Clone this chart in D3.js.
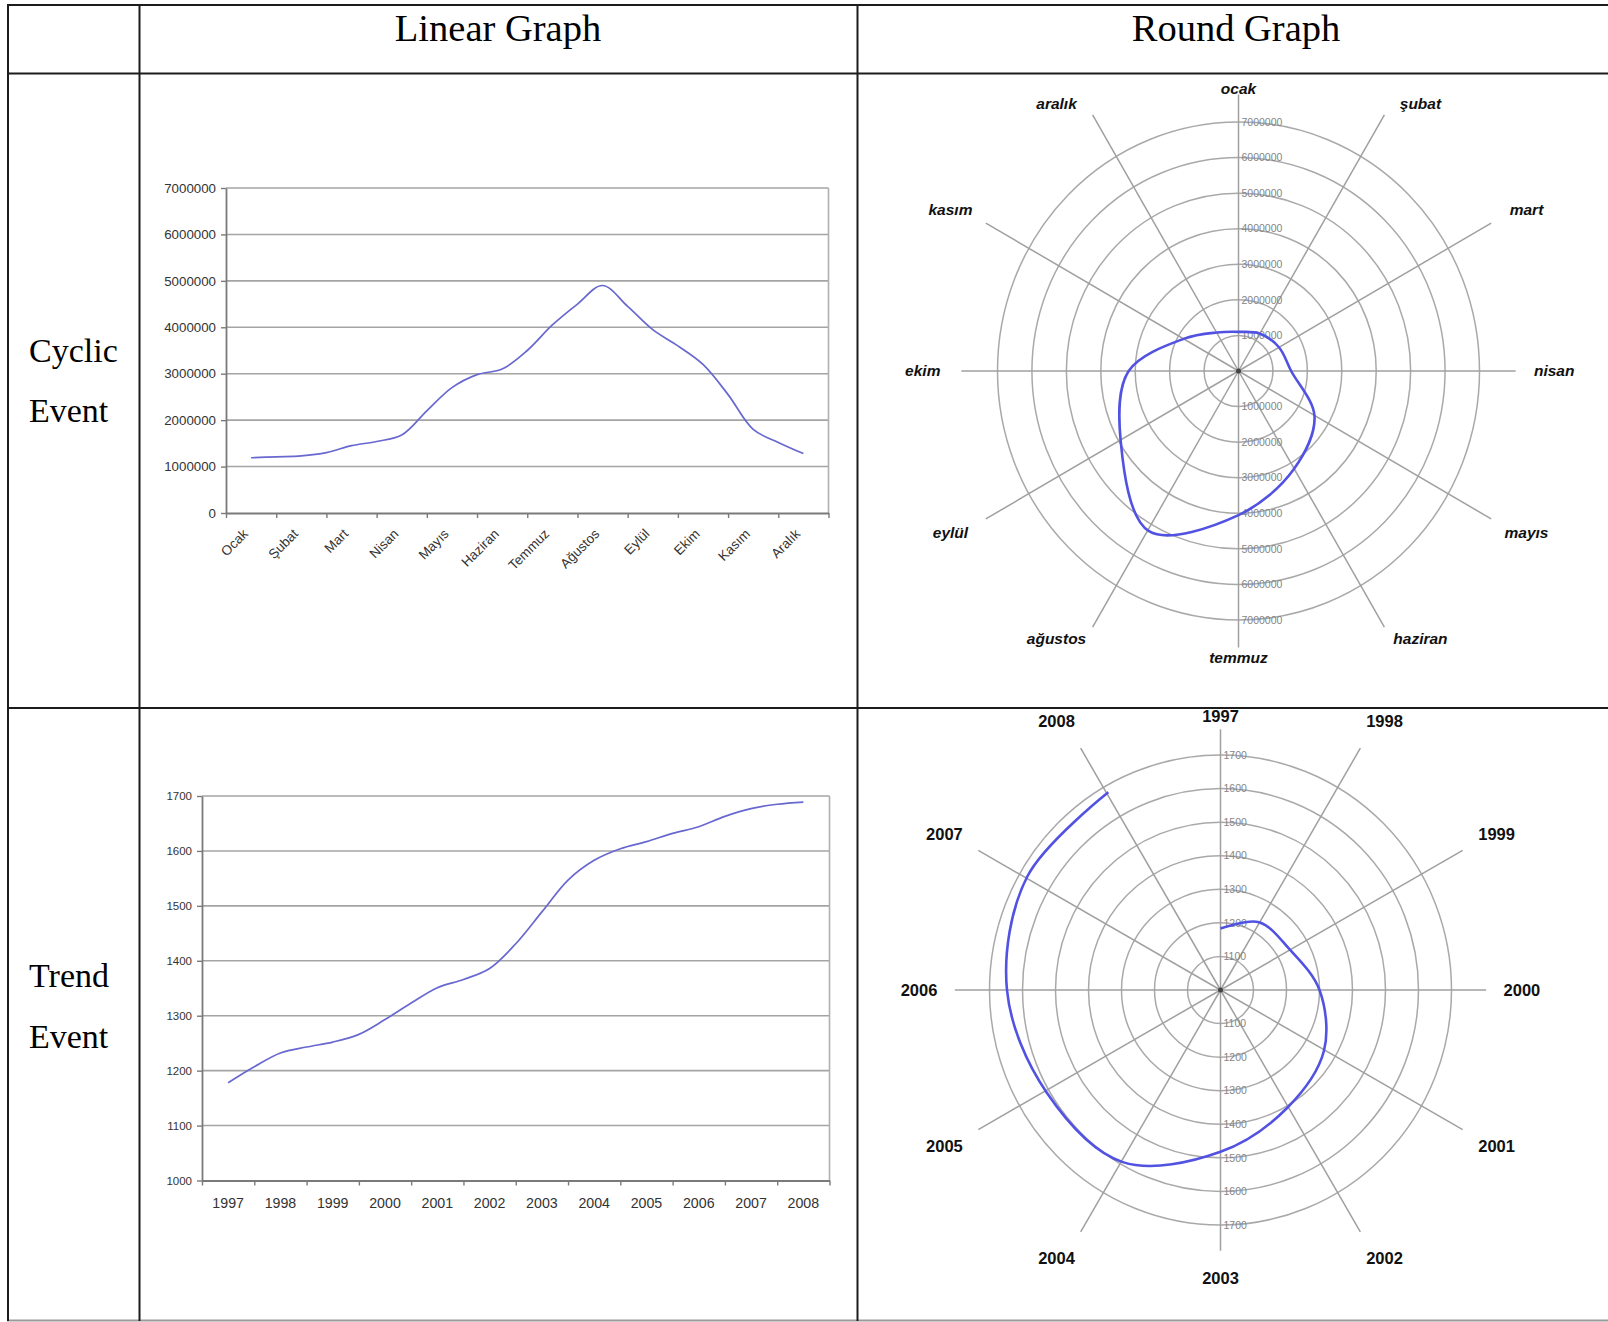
<!DOCTYPE html>
<html>
<head>
<meta charset="utf-8">
<title>Linear and Round Graphs</title>
<script src="https://d3js.org/d3.v7.min.js"></script>
<style>
  body { margin: 0; background: #fff; }
  svg { display: block; }
</style>
</head>
<body>
<div id="chart"></div>
<script>
// ---- data ----
var monthLabels = ["Ocak", "Şubat", "Mart", "Nisan", "Mayıs", "Haziran", "Temmuz", "Ağustos", "Eylül", "Ekim", "Kasım", "Aralık"];
var monthLabelsRound = ["ocak", "şubat", "mart", "nisan", "mayıs", "haziran", "temmuz", "ağustos", "eylül", "ekim", "kasım", "aralık"];
var yearLabels = ["1997", "1998", "1999", "2000", "2001", "2002", "2003", "2004", "2005", "2006", "2007", "2008"];

// cyclic linear graph, one value every half month (Ocak .. Aralık)
var cyclicLinear = [1190000, 1210000, 1230000, 1300000, 1450000, 1540000, 1680000, 2200000, 2700000, 2980000, 3100000, 3500000,
                    4050000, 4500000, 4900000, 4450000, 3950000, 3600000, 3200000, 2550000, 1800000, 1520000, 1280000];
// cyclic round graph, one value per month
var cyclicRound = [1100000, 1220000, 1350000, 1530000, 2550000, 3200000, 4050000, 5200000, 3950000, 3190000, 1820000, 1250000];
var cyclicTicks = [0, 1000000, 2000000, 3000000, 4000000, 5000000, 6000000, 7000000];

// trend linear graph, one value every half year (1997 .. 2008)
var trendLinear = [1178, 1207, 1232, 1243, 1252, 1266, 1293, 1323, 1351, 1366, 1386, 1431,
                   1489, 1547, 1583, 1604, 1617, 1632, 1644, 1663, 1677, 1685, 1689];
// trend round graph, one value per year
var trendRound = [1183, 1233, 1242, 1300, 1362, 1405, 1482, 1592, 1609, 1647, 1676, 1680];
var trendTicks = [1000, 1100, 1200, 1300, 1400, 1500, 1600, 1700];

var W = 1608, H = 1322;
var lineBlue = "#6868d0", roundBlue = "#5252e2";
var sans = "'Liberation Sans', Arial, sans-serif";
var serif = "'Liberation Serif', 'Times New Roman', serif";

var svg = d3.select("#chart").append("svg")
    .attr("width", W)
    .attr("height", H);
svg.append("rect").attr("width", W).attr("height", H).attr("fill", "#fff");

// ---- table frame ----
var table = svg.append("g").attr("stroke", "#1c1c1c").attr("stroke-width", 2);
[5, 73.5, 708].forEach(function(y) {
    table.append("line").attr("x1", 7).attr("x2", W).attr("y1", y).attr("y2", y);
});
table.append("line").attr("x1", 7).attr("x2", W).attr("y1", 1320.5).attr("y2", 1320.5).attr("stroke", "#9a9a9a");
[8, 139.5, 857.5].forEach(function(x) {
    table.append("line").attr("x1", x).attr("x2", x).attr("y1", 4).attr("y2", 1321);
});

var heads = svg.append("g").attr("font-family", serif).attr("fill", "#000");
heads.append("text").attr("x", 498).attr("y", 41).attr("text-anchor", "middle").attr("font-size", 38.5).text("Linear Graph");
heads.append("text").attr("x", 1236).attr("y", 41).attr("text-anchor", "middle").attr("font-size", 38.5).text("Round Graph");
[["Cyclic", 362], ["Event", 422], ["Trend", 987], ["Event", 1048]].forEach(function(t) {
    heads.append("text").attr("x", 29).attr("y", t[1]).attr("font-size", 34).text(t[0]);
});

// ---- linear (line) charts ----
function drawLinear(cfg) {
    var g = svg.append("g");
    var n = cfg.categories.length;
    var x = d3.scaleLinear().domain([-0.5, n - 0.5]).range([cfg.left, cfg.right]);
    var y = d3.scaleLinear().domain(d3.extent(cfg.ticks)).range([cfg.bottom, cfg.top]);

    // horizontal gridlines
    g.selectAll("line.grid").data(cfg.ticks.slice(1)).join("line")
        .attr("class", "grid")
        .attr("x1", cfg.left).attr("x2", cfg.right)
        .attr("y1", function(d) { return y(d); }).attr("y2", function(d) { return y(d); })
        .attr("stroke", "#a4a4a4").attr("stroke-width", 1.6);
    // right border of plot area
    g.append("line")
        .attr("x1", cfg.right).attr("x2", cfg.right).attr("y1", cfg.top).attr("y2", cfg.bottom)
        .attr("stroke", "#b0b0b0").attr("stroke-width", 1.6);

    // y axis
    var yAxis = g.append("g")
        .attr("transform", "translate(" + cfg.left + ",0)")
        .call(d3.axisLeft(y).tickValues(cfg.ticks).tickSize(5).tickSizeOuter(0).tickFormat(d3.format("d")).tickPadding(5));
    yAxis.select(".domain").attr("stroke", "#7a7a7a").attr("stroke-width", 1.8);
    yAxis.selectAll(".tick line").attr("stroke", "#7a7a7a").attr("stroke-width", 1.4);
    yAxis.selectAll(".tick text")
        .attr("font-family", sans).attr("font-size", cfg.yFont).attr("fill", "#333");

    // x axis, ticks between categories
    var bounds = d3.range(n + 1).map(function(i) { return i - 0.5; });
    var xAxis = g.append("g")
        .attr("transform", "translate(0," + cfg.bottom + ")")
        .call(d3.axisBottom(x).tickValues(bounds).tickSize(5).tickSizeOuter(0).tickFormat(""));
    xAxis.select(".domain").attr("stroke", "#7a7a7a").attr("stroke-width", 1.8);
    xAxis.selectAll(".tick line").attr("stroke", "#7a7a7a").attr("stroke-width", 1.4);

    var labs = g.append("g").attr("font-family", sans).attr("font-size", cfg.xFont).attr("fill", "#333");
    if (cfg.rotate) {
        labs.selectAll("text").data(cfg.categories).join("text")
            .attr("text-anchor", "end")
            .attr("dy", "0.7em")
            .attr("transform", function(d, i) {
                return "translate(" + (x(i) - 9) + "," + (cfg.bottom + 15) + ") rotate(-45)";
            })
            .text(function(d) { return d; });
    } else {
        labs.selectAll("text").data(cfg.categories).join("text")
            .attr("text-anchor", "middle")
            .attr("x", function(d, i) { return x(i); })
            .attr("y", cfg.bottom + 27)
            .text(function(d) { return d; });
    }

    var line = d3.line()
        .x(function(d, i) { return x(i * 0.5); })
        .y(function(d) { return y(d); })
        .curve(d3.curveCatmullRom.alpha(0.5));
    g.append("path").datum(cfg.values)
        .attr("d", line)
        .attr("fill", "none")
        .attr("stroke", lineBlue)
        .attr("stroke-width", 1.7);
}

drawLinear({ categories: monthLabels, values: cyclicLinear, ticks: cyclicTicks,
             left: 226, right: 828.5, top: 188, bottom: 513, yFont: 13.3, xFont: 13.5, rotate: true });
drawLinear({ categories: yearLabels, values: trendLinear, ticks: trendTicks,
             left: 202, right: 829.5, top: 796, bottom: 1180.5, yFont: 11.5, xFont: 14.2, rotate: false });

// ---- round (radar) charts ----
// labelX / labelY: label distance as a multiple of the outer radius,
// for [top/side axis, spokes near vertical, spokes near horizontal, bottom axis]
function drawRound(cfg) {
    var g = svg.append("g");
    var n = cfg.labels.length;
    var rX = d3.scaleLinear().domain(d3.extent(cfg.ticks)).range([0, cfg.rx]);
    var rY = d3.scaleLinear().domain(d3.extent(cfg.ticks)).range([0, cfg.ry]);
    function ang(i) { return i * 2 * Math.PI / n; }
    function s2(i) { return Math.abs(Math.sin(2 * ang(i))); }
    function cls(i) {
        if (i === n / 2) return 3;
        if (i % 3 === 0) return 0;
        return Math.abs(Math.cos(ang(i))) > 0.8 ? 1 : 2;
    }

    // rings
    g.selectAll("ellipse").data(cfg.ticks.slice(1)).join("ellipse")
        .attr("cx", cfg.cx).attr("cy", cfg.cy)
        .attr("rx", function(d) { return rX(d); })
        .attr("ry", function(d) { return rY(d); })
        .attr("fill", "none").attr("stroke", "#a9a9a9").attr("stroke-width", 1.5);

    // spokes
    g.selectAll("line.spoke").data(d3.range(n)).join("line")
        .attr("class", "spoke")
        .attr("x1", cfg.cx).attr("y1", cfg.cy)
        .attr("x2", function(i) { return cfg.cx + cfg.rx * (1.15 + 0.07 * s2(i)) * Math.sin(ang(i)); })
        .attr("y2", function(i) { return cfg.cy - cfg.ry * (1.11 + 0.09 * s2(i)) * Math.cos(ang(i)); })
        .attr("stroke", "#a0a0a0").attr("stroke-width", 1.5);

    // value labels along the vertical axis, above and below the centre
    var vl = g.append("g").attr("font-family", sans).attr("font-size", 10.5).attr("fill", "#858585");
    [-1, 1].forEach(function(side) {
        vl.selectAll("text.s" + (side + 1)).data(cfg.ticks.slice(1)).join("text")
            .attr("class", "s" + (side + 1))
            .attr("x", cfg.cx + 3)
            .attr("y", function(d) { return cfg.cy + side * rY(d); })
            .attr("dy", "0.35em")
            .text(function(d) { return d3.format("d")(d); });
    });

    // centre mark
    g.append("circle").attr("cx", cfg.cx).attr("cy", cfg.cy).attr("r", 2.5).attr("fill", "#444");

    // category labels
    g.append("g")
        .attr("font-family", sans).attr("font-size", cfg.labelFont)
        .attr("font-weight", "bold").attr("font-style", cfg.italic ? "italic" : "normal")
        .attr("fill", "#111")
        .selectAll("text").data(cfg.labels).join("text")
        .attr("text-anchor", "middle")
        .attr("dy", "0.35em")
        .attr("x", function(d, i) { return cfg.cx + cfg.rx * cfg.labelX[cls(i) % 3] * Math.sin(ang(i)); })
        .attr("y", function(d, i) { return cfg.cy - cfg.ry * cfg.labelY[cls(i)] * Math.cos(ang(i)); })
        .text(function(d) { return d; });

    // data curve
    var line = d3.line()
        .x(function(d, i) { return cfg.cx + rX(d) * Math.sin(ang(i)); })
        .y(function(d, i) { return cfg.cy - rY(d) * Math.cos(ang(i)); })
        .curve(cfg.closed ? d3.curveCatmullRomClosed.alpha(0.5) : d3.curveCatmullRom.alpha(0.5));
    g.append("path").datum(cfg.values)
        .attr("d", line)
        .attr("fill", "none")
        .attr("stroke", roundBlue)
        .attr("stroke-width", 2.6);
}

drawRound({ labels: monthLabelsRound, values: cyclicRound, ticks: cyclicTicks,
            cx: 1238.5, cy: 371, rx: 241, ry: 249, closed: true, italic: true, labelFont: 15.5,
            labelX: [1.31, 1.51, 1.38], labelY: [1.135, 1.24, 1.30, 1.15] });
drawRound({ labels: yearLabels, values: trendRound, ticks: trendTicks,
            cx: 1220.5, cy: 990, rx: 231, ry: 235, closed: false, italic: false, labelFont: 16.5,
            labelX: [1.305, 1.42, 1.38], labelY: [1.167, 1.32, 1.33, 1.228] });
</script>
</body>
</html>
